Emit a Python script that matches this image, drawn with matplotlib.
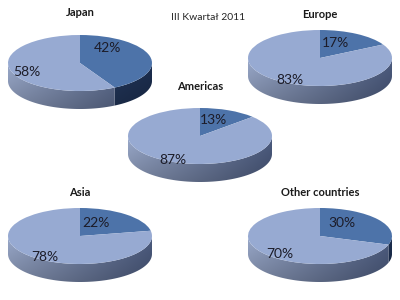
import matplotlib.pyplot as plt
import numpy as np
from matplotlib.patches import Polygon

plt.rcParams['font.family'] = ['Lato', 'DejaVu Sans']

regions = ['Japan', 'Europe', 'Americas', 'Asia', 'Other countries']
share = [42, 17, 13, 22, 30]          # dark slice, rest is 100 - share
title = 'III Kwartał 2011'

# layout (pixels, y from top)
W, H = 400, 300
centres = [(80, 63), (320, 58), (200, 136), (80, 236), (320, 236)]
title_y = [13, 14, 87, 192, 192]
lab_small = [(0.375, 0.54), (0.21, 0.54), (0.19, 0.57), (0.22, 0.46), (0.30, 0.46)]
lab_big = [(-0.74, -0.32), (-0.42, -0.78), (-0.38, -0.86), (-0.49, -0.75), (-0.56, -0.64)]
rx, ry, depth = 72, 28, 18
D = depth / ry

c_dark = '#4d73a9'
c_light = '#97aad2'
side_cols = {  # (left colour, right colour)
    0: (np.array([0.20, 0.30, 0.47]), np.array([0.11, 0.18, 0.31])),
    1: (np.array([0.60, 0.66, 0.79]), np.array([0.30, 0.36, 0.50])),
}


def gradient(i):
    left, right = side_cols[i]
    fx = np.linspace(0, 1, 200)[None, :, None]
    fy = np.linspace(1, 0, 40)[:, None, None]   # origin lower -> row 0 bottom
    img = left * (1 - fx) + right * fx
    img = img * (1 - 0.22 * fy)
    return np.clip(img, 0, 1)


fig = plt.figure(figsize=(4, 3), dpi=100)

for k, name in enumerate(regions):
    cx, cy = centres[k]
    ax = fig.add_axes([(cx - rx * 1.02) / W, 1 - (cy + ry * 1.02 + depth) / H,
                       2.04 * rx / W, (2.04 * ry + depth) / H])
    wedges, texts, autos = ax.pie([share[k], 100 - share[k]], colors=[c_dark, c_light],
                                  startangle=90, counterclock=False, autopct='%d%%',
                                  textprops=dict(fontsize=10, color='#1c1c28'))
    for w in wedges:
        w.set_zorder(3)
    autos[0].set_position(lab_small[k])
    autos[1].set_position(lab_big[k])
    for t in autos:
        t.set_zorder(5)

    # side of the cylinder (front half only)
    for i, w in enumerate(wedges):
        for sh in (-360, 0, 360):
            lo = max(w.theta1 + sh, -180)
            hi = min(w.theta2 + sh, 0)
            if lo >= hi:
                continue
            t = np.radians(np.linspace(lo, hi, 80))
            pts = np.concatenate([np.c_[np.cos(t), np.sin(t)],
                                  np.c_[np.cos(t[::-1]), np.sin(t[::-1]) - D]])
            poly = Polygon(pts, closed=True, facecolor='none', edgecolor='none')
            ax.add_patch(poly)
            im = ax.imshow(gradient(i), extent=(-1, 1, -1 - D, 0), origin='lower',
                           aspect='auto', zorder=2, interpolation='bilinear')
            im.set_clip_path(poly)

    ax.set_aspect('auto')
    ax.set_xlim(-1.02, 1.02)
    ax.set_ylim(-1.02 - D, 1.02)
    ax.axis('off')

    fig.text(cx / W, 1 - title_y[k] / H, name, ha='center', va='center',
             fontsize=8, fontweight='bold', color='#1a1a1a')

fig.text(208 / W, 1 - 18 / H, title, ha='center', va='center', fontsize=7.5, color='#262626')

fig.savefig('out.png', dpi=100)
